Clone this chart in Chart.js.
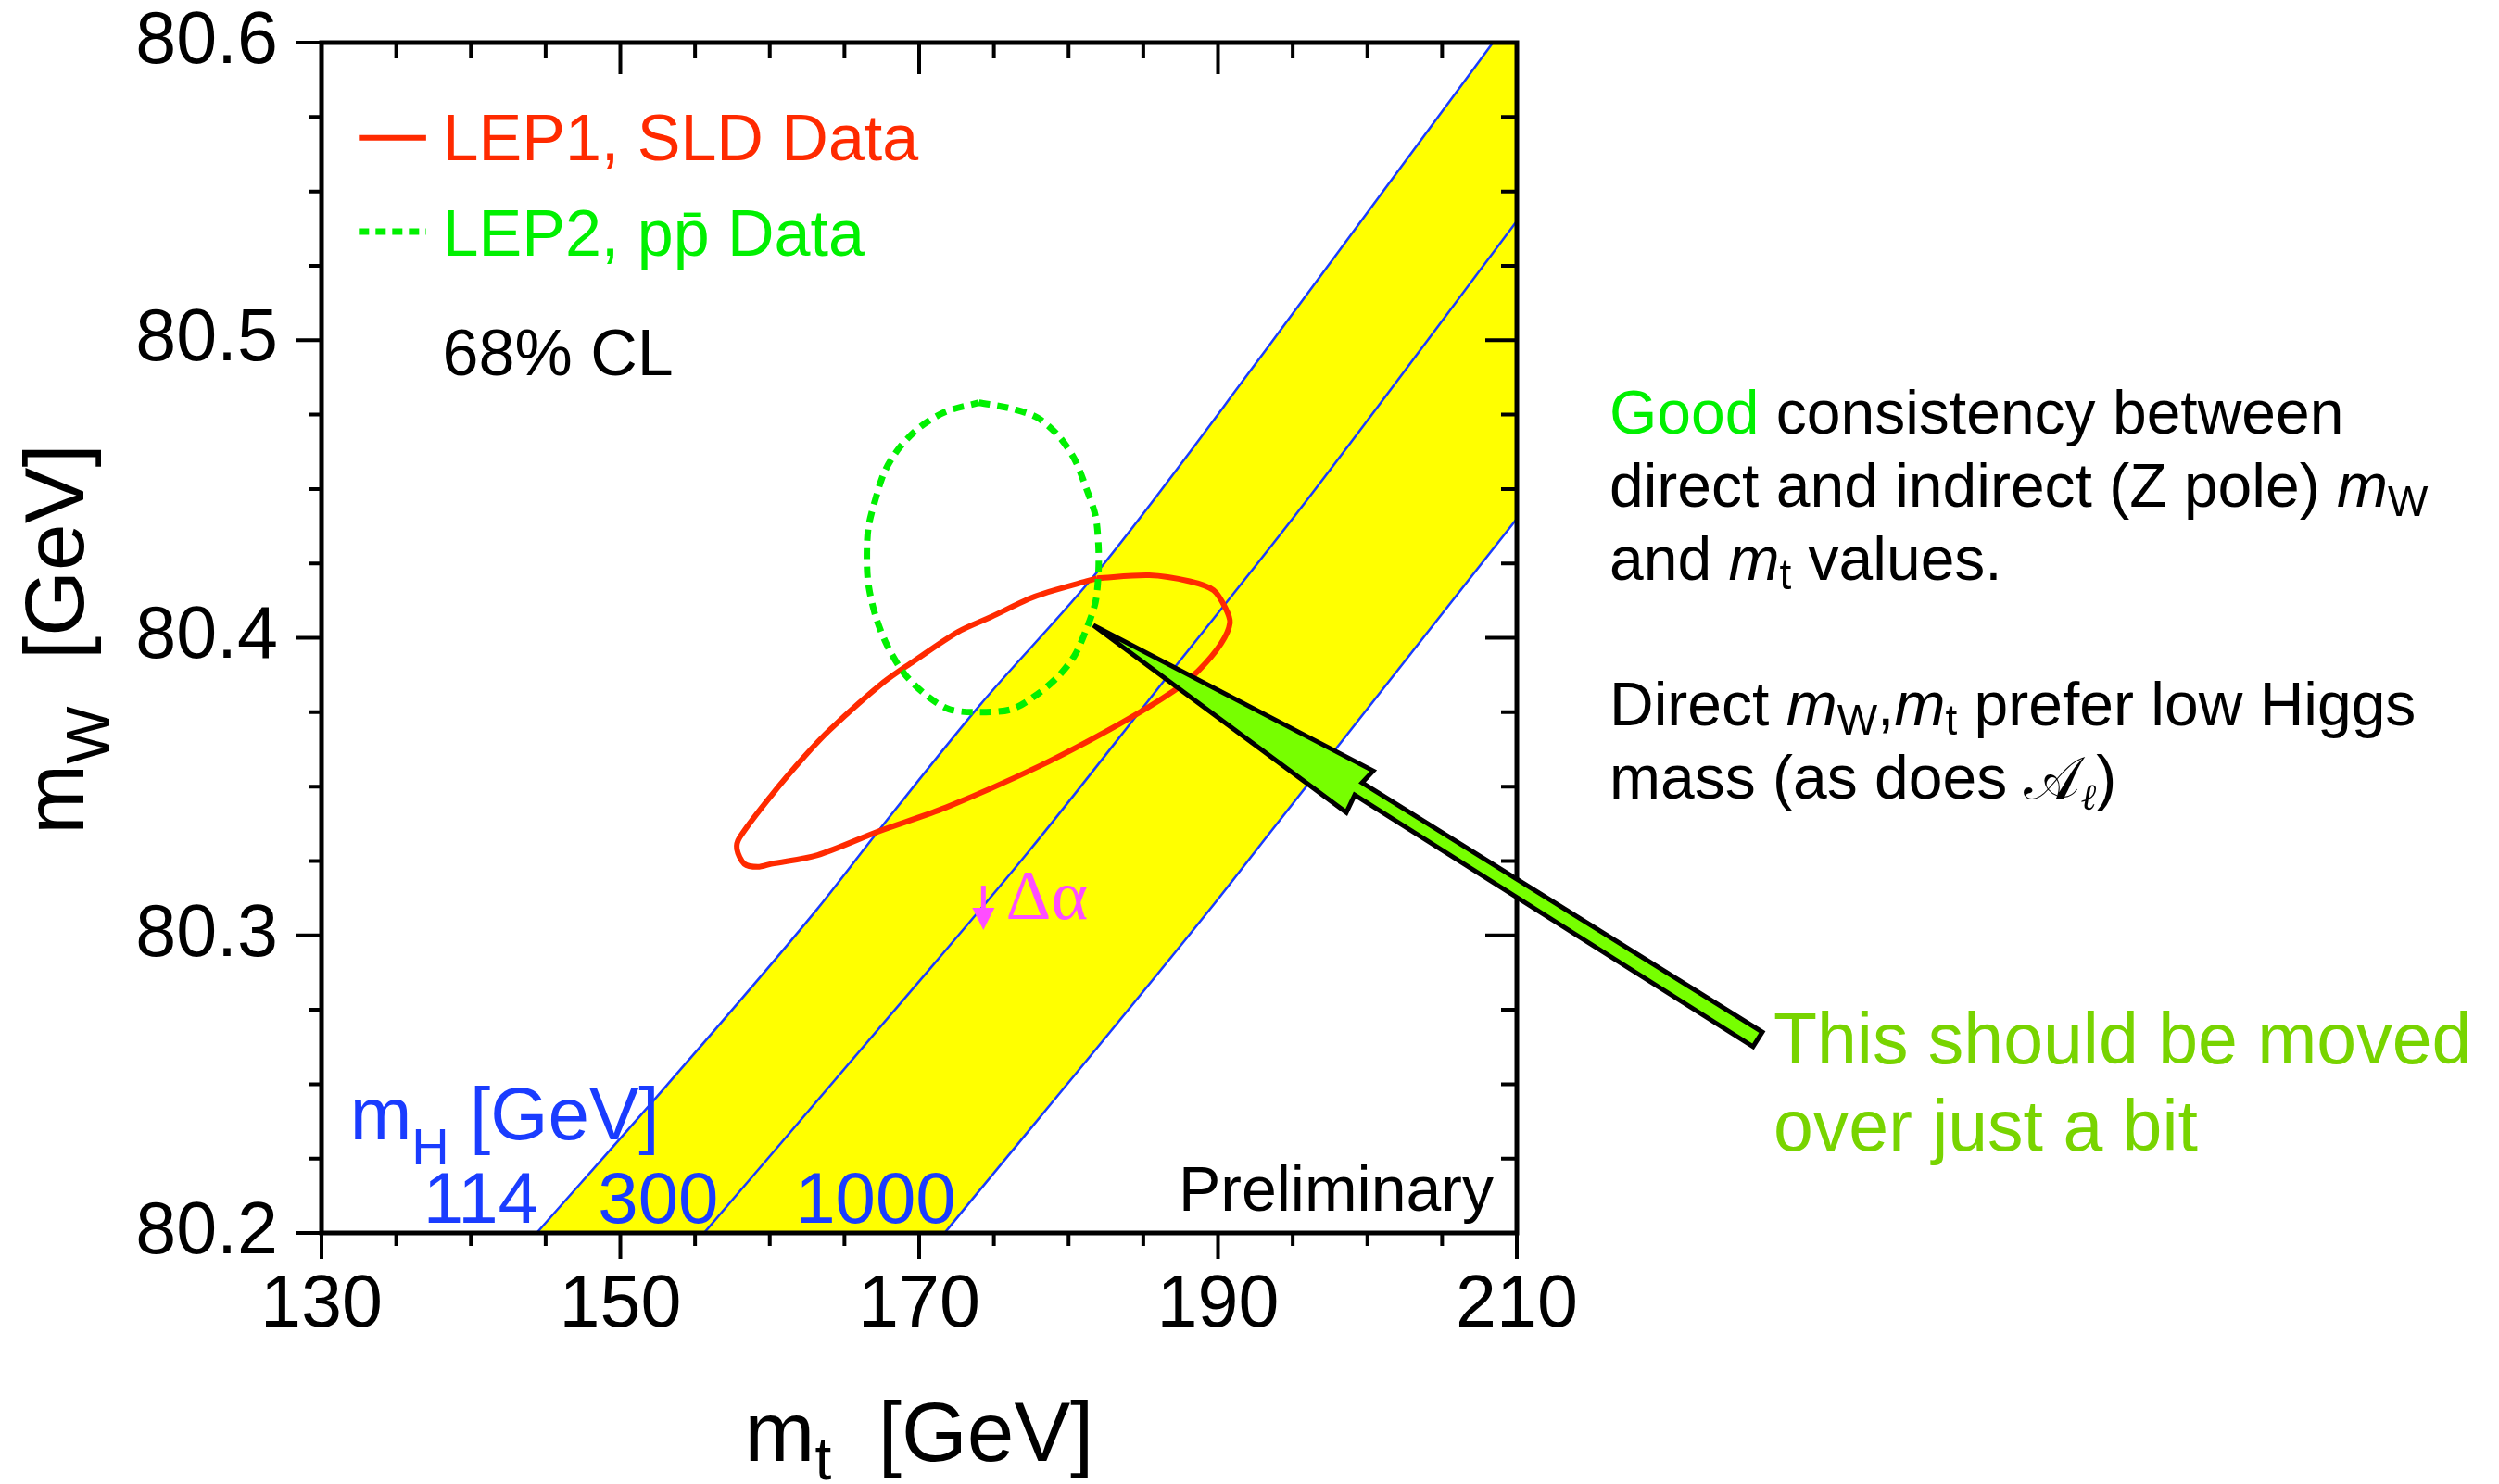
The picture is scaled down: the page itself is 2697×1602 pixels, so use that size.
<!DOCTYPE html>
<html>
<head>
<meta charset="utf-8">
<script src="https://cdn.jsdelivr.net/npm/chart.js@4.4.1/dist/chart.umd.min.js"></script>
<style>
  html, body { margin: 0; padding: 0; background: #fff; }
  #wrap { width: 2697px; height: 1602px; }
</style>
</head>
<body>
<div id="wrap"><canvas id="mwChart" width="2697" height="1602"></canvas></div>
<script>
// axis ranges and tick positions (GeV)
const xMin = 130, xMax = 210, yMin = 80.2, yMax = 80.6;
const xMajorTicks = [130, 150, 170, 190, 210];
const xMinorTicks = [135, 140, 145, 155, 160, 165, 175, 180, 185, 195, 200, 205];
const yMajorTicks = [80.2, 80.3, 80.4, 80.5, 80.6];
const yMinorTicks = [80.225, 80.25, 80.275, 80.325, 80.35, 80.375, 80.425, 80.45, 80.475, 80.525, 80.55, 80.575];

// SM prediction lines for mH = 114, 300, 1000 GeV
const mH114Mt = [144.4, 153.0, 163.2, 167.1, 174.0, 181.9, 193.1, 208.4, 210.0];
const mH114Mw = [80.200, 80.249, 80.309, 80.334, 80.377, 80.422, 80.496, 80.600, 80.611];
const mH300Mt = [155.6, 171.1, 177.3, 186.3, 195.3, 210.0];
const mH300Mw = [80.200, 80.291, 80.328, 80.385, 80.442, 80.540];
const mH1000Mt = [171.7, 189.5, 193.4, 210.0];
const mH1000Mw = [80.200, 80.309, 80.334, 80.440];
const higgsLabels = ['114', '300', '1000'];
const higgsLabelMt = [136.8, 148.5, 161.7];

// LEP1, SLD indirect 68% CL contour
const lep1Mt = [181.9, 185.4, 188.1, 189.7, 190.5, 190.8, 190.2, 188.7, 187.0, 183.4, 178.1, 171.8, 167.3, 163.2, 160.1, 159.2, 158.3, 157.8, 158.0, 160.1, 162.3, 164.0, 167.6, 169.6, 172.6, 174.8, 177.3, 178.4, 181.2, 181.9];
const lep1Mw = [80.420, 80.421, 80.419, 80.416, 80.410, 80.405, 80.398, 80.389, 80.382, 80.371, 80.357, 80.343, 80.335, 80.327, 80.324, 80.323, 80.324, 80.329, 80.333, 80.347, 80.360, 80.369, 80.385, 80.392, 80.402, 80.407, 80.413, 80.415, 80.419, 80.420];

// LEP2, ppbar direct 68% CL contour
const lep2Mt = [174.0, 176.2, 177.9, 179.3, 180.4, 181.2, 181.8, 182.0, 182.0, 181.8, 181.2, 180.4, 179.3, 177.9, 176.2, 174.0, 172.0, 170.4, 169.0, 167.9, 167.1, 166.6, 166.5, 166.6, 167.1, 167.7, 168.7, 170.1, 171.8, 174.0];
const lep2Mw = [80.479, 80.477, 80.474, 80.468, 80.460, 80.450, 80.441, 80.431, 80.422, 80.412, 80.403, 80.394, 80.387, 80.381, 80.376, 80.375, 80.376, 80.381, 80.388, 80.397, 80.407, 80.418, 80.427, 80.437, 80.447, 80.456, 80.464, 80.471, 80.476, 80.479];

// big annotation arrow outline (tip, barb, notch, tail, tail, notch, barb)
const arrowMt = [181.66, 200.39, 199.64, 226.43, 225.81, 199.15, 198.59];
const arrowMw = [80.4042, 80.3553, 80.3513, 80.2675, 80.2626, 80.3472, 80.3413];

// delta-alpha shift marker
const dAlphaMt = 174.3;
const dAlphaMw = [80.3167, 80.3018];

const RED = '#ff2a00';
const GREEN = '#00f000';
const BLUE = '#1a3cff';
const YELLOW = '#ffff00';
const MAGENTA = '#ff4dff';
const LIME = '#78d400';
const SANS = '"Liberation Sans", Arial, Helvetica, sans-serif';
const SERIF = '"Liberation Serif", "Times New Roman", serif';
const SCRIPT = '"DejaVu Serif", "DejaVu Sans", "Noto Sans", serif';

function toPoints(xs, ys) {
  return xs.map((v, i) => ({ x: v, y: ys[i] }));
}

function fontOf(r) {
  return `${r.it ? 'italic ' : ''}${r.s || 66}px ${r.f || SANS}`;
}

// draws a row of text pieces with their own size, colour and baseline shift
function drawRuns(ctx, x0, y0, runs, align = 'left') {
  ctx.textAlign = 'left';
  ctx.textBaseline = 'alphabetic';
  const widths = runs.map((r) => {
    ctx.font = fontOf(r);
    return ctx.measureText(r.t).width;
  });
  const total = widths.reduce((a, b) => a + b, 0);
  let cx = x0;
  if (align === 'right') cx = x0 - total;
  if (align === 'center') cx = x0 - total / 2;
  runs.forEach((r, i) => {
    ctx.font = fontOf(r);
    ctx.fillStyle = r.c || '#000';
    ctx.fillText(r.t, cx, y0 + (r.dy || 0));
    cx += widths[i];
  });
}

function drawFrame(ctx, area, x, y) {
  ctx.strokeStyle = '#000';
  ctx.lineCap = 'butt';
  ctx.lineWidth = 4;
  ctx.beginPath();
  const xt = xMajorTicks.map((v) => [v, 1]).concat(xMinorTicks.map((v) => [v, 0]));
  xt.forEach(([v, major]) => {
    const px = x.getPixelForValue(v);
    ctx.moveTo(px, area.bottom);
    ctx.lineTo(px, area.bottom + (major ? 28 : 14));
    ctx.moveTo(px, area.top);
    ctx.lineTo(px, area.top + (major ? 34 : 17));
  });
  const yt = yMajorTicks.map((v) => [v, 1]).concat(yMinorTicks.map((v) => [v, 0]));
  yt.forEach(([v, major]) => {
    const py = y.getPixelForValue(v);
    ctx.moveTo(area.left, py);
    ctx.lineTo(area.left - (major ? 28 : 14), py);
    ctx.moveTo(area.right, py);
    ctx.lineTo(area.right - (major ? 34 : 17), py);
  });
  ctx.stroke();
  ctx.lineWidth = 5;
  ctx.strokeRect(area.left, area.top, area.right - area.left, area.bottom - area.top);
}

function drawPlotLabels(ctx, chart, x, y) {
  const [lep2Set, lep1Set] = chart.data.datasets;
  const lx0 = x.getPixelForValue(132.5);
  const lx1 = x.getPixelForValue(137.0);
  const tx = x.getPixelForValue(138.1);

  // legend
  ctx.save();
  ctx.strokeStyle = lep1Set.borderColor;
  ctx.lineWidth = lep1Set.borderWidth;
  ctx.beginPath();
  ctx.moveTo(lx0, y.getPixelForValue(80.568));
  ctx.lineTo(lx1, y.getPixelForValue(80.568));
  ctx.stroke();
  ctx.strokeStyle = lep2Set.borderColor;
  ctx.lineWidth = lep2Set.borderWidth;
  ctx.setLineDash([11, 7]);
  ctx.beginPath();
  ctx.moveTo(lx0, y.getPixelForValue(80.5365));
  ctx.lineTo(lx1, y.getPixelForValue(80.5365));
  ctx.stroke();
  ctx.restore();

  drawRuns(ctx, tx, y.getPixelForValue(80.5605), [{ t: 'LEP1, SLD Data', s: 70, c: RED }]);
  drawRuns(ctx, tx, y.getPixelForValue(80.5284), [{ t: 'LEP2, pp\u0304 Data', s: 70, c: GREEN }]);
  drawRuns(ctx, tx, y.getPixelForValue(80.4882), [{ t: '68% CL', s: 70 }]);

  // Higgs mass labels
  drawRuns(ctx, x.getPixelForValue(131.9), y.getPixelForValue(80.2314), [
    { t: 'm', s: 80, c: BLUE },
    { t: 'H', s: 56, c: BLUE, dy: 27 },
    { t: ' [GeV]', s: 80, c: BLUE },
  ]);
  higgsLabels.forEach((lab, i) => {
    drawRuns(ctx, x.getPixelForValue(higgsLabelMt[i]), y.getPixelForValue(80.2034), [{ t: lab, s: 78, c: BLUE }]);
  });

  drawRuns(ctx, x.getPixelForValue(208.45), y.getPixelForValue(80.2075), [{ t: 'Preliminary', s: 68 }], 'right');

  // delta-alpha marker
  const ax = x.getPixelForValue(dAlphaMt);
  const ay0 = y.getPixelForValue(dAlphaMw[0]);
  const ay1 = y.getPixelForValue(dAlphaMw[1]);
  ctx.save();
  ctx.strokeStyle = MAGENTA;
  ctx.fillStyle = MAGENTA;
  ctx.lineWidth = 5;
  ctx.beginPath();
  ctx.moveTo(ax, ay0);
  ctx.lineTo(ax, ay1 - 16);
  ctx.stroke();
  ctx.beginPath();
  ctx.moveTo(ax - 12, ay1 - 24);
  ctx.lineTo(ax + 12, ay1 - 24);
  ctx.lineTo(ax, ay1);
  ctx.closePath();
  ctx.fill();
  ctx.restore();
  drawRuns(ctx, x.getPixelForValue(175.8), y.getPixelForValue(80.3055), [{ t: '\u0394\u03b1', s: 76, c: MAGENTA, f: SERIF }]);
}

function drawAxisTitles(ctx, area) {
  drawRuns(ctx, (area.left + area.right) / 2, 1577, [
    { t: 'm', s: 91 },
    { t: 't', s: 64, dy: 20 },
    { t: '  [GeV]', s: 91 },
  ], 'center');
  ctx.save();
  ctx.translate(90, 690);
  ctx.rotate(-Math.PI / 2);
  drawRuns(ctx, 0, 0, [
    { t: 'm', s: 91 },
    { t: 'W', s: 66, dy: 28 },
    { t: '  [GeV]', s: 91 },
  ], 'center');
  ctx.restore();
}

function drawNotes(ctx, area) {
  const nx = area.right + 100;
  const sub = { s: 46, dy: 10 };
  drawRuns(ctx, nx, 468, [{ t: 'Good', c: GREEN }, { t: ' consistency between' }]);
  drawRuns(ctx, nx, 547, [{ t: 'direct and indirect (Z pole) ' }, { t: 'm', it: true }, { t: 'W', ...sub }]);
  drawRuns(ctx, nx, 626, [{ t: 'and ' }, { t: 'm', it: true }, { t: 't', ...sub }, { t: ' values.' }]);
  drawRuns(ctx, nx, 783, [
    { t: 'Direct ' }, { t: 'm', it: true }, { t: 'W', ...sub }, { t: ',' },
    { t: 'm', it: true }, { t: 't', ...sub }, { t: ' prefer low Higgs' },
  ]);
  drawRuns(ctx, nx, 862, [
    { t: 'mass (as does ' },
    { t: '\u{1D49C}', f: SCRIPT, s: 64 },
    { t: '\u2113', s: 40, dy: 12, it: true, f: SERIF },
    { t: ')' },
  ]);
  drawRuns(ctx, area.right + 277, 1148, [{ t: 'This should be moved', s: 77, c: LIME }]);
  drawRuns(ctx, area.right + 277, 1242, [{ t: 'over just a bit', s: 77, c: LIME }]);
}

function drawArrow(ctx, x, y) {
  ctx.save();
  ctx.beginPath();
  arrowMt.forEach((mt, i) => {
    const px = x.getPixelForValue(mt);
    const py = y.getPixelForValue(arrowMw[i]);
    if (i === 0) ctx.moveTo(px, py);
    else ctx.lineTo(px, py);
  });
  ctx.closePath();
  ctx.fillStyle = '#77ff00';
  ctx.fill();
  ctx.lineJoin = 'miter';
  ctx.lineWidth = 5;
  ctx.strokeStyle = '#000';
  ctx.stroke();
  ctx.restore();
}

const overlay = {
  id: 'overlay',
  afterDatasetsDraw(chart) {
    const { ctx, chartArea: area, scales: { x, y } } = chart;
    ctx.save();
    drawFrame(ctx, area, x, y);
    drawPlotLabels(ctx, chart, x, y);
    drawAxisTitles(ctx, area);
    drawNotes(ctx, area);
    drawArrow(ctx, x, y);
    ctx.restore();
  },
};

const tickFont = { family: SANS, size: 79, lineHeight: 1 };

const chart = new Chart(document.getElementById('mwChart'), {
  type: 'line',
  data: {
    datasets: [
      {
        label: 'LEP2, ppbar Data',
        data: toPoints(lep2Mt, lep2Mw),
        borderColor: GREEN,
        borderWidth: 7,
        borderDash: [12, 8],
        fill: false,
        tension: 0.3,
      },
      {
        label: 'LEP1, SLD Data',
        data: toPoints(lep1Mt, lep1Mw),
        borderColor: RED,
        borderWidth: 6,
        fill: false,
        tension: 0.3,
      },
      {
        label: 'mH 1000',
        data: toPoints(mH1000Mt, mH1000Mw),
        borderColor: BLUE,
        borderWidth: 2.5,
        backgroundColor: '#ffffff',
        fill: 'start',
        cubicInterpolationMode: 'monotone',
      },
      {
        label: 'mH 300',
        data: toPoints(mH300Mt, mH300Mw),
        borderColor: BLUE,
        borderWidth: 2.5,
        fill: false,
        cubicInterpolationMode: 'monotone',
      },
      {
        label: 'mH 114',
        data: toPoints(mH114Mt, mH114Mw),
        borderColor: BLUE,
        borderWidth: 2.5,
        backgroundColor: YELLOW,
        fill: 'start',
        cubicInterpolationMode: 'monotone',
      },
    ],
  },
  options: {
    responsive: false,
    animation: false,
    devicePixelRatio: 1,
    events: [],
    layout: { padding: { left: 0, top: 46, right: 1060, bottom: 0 } },
    elements: { point: { radius: 0, hoverRadius: 0 } },
    plugins: { legend: { display: false }, tooltip: { enabled: false } },
    scales: {
      x: {
        type: 'linear',
        min: xMin,
        max: xMax,
        afterFit(scale) {
          scale.height = 271;
          scale.paddingLeft = 0;
          scale.paddingRight = 0;
        },
        afterBuildTicks(scale) { scale.ticks = xMajorTicks.map((v) => ({ value: v })); },
        grid: { display: false, drawTicks: false },
        border: { display: false },
        ticks: {
          font: tickFont,
          color: '#000',
          padding: 40,
          maxRotation: 0,
          autoSkip: false,
          callback: (v) => String(v),
        },
      },
      y: {
        type: 'linear',
        min: yMin,
        max: yMax,
        afterFit(scale) {
          scale.width = 347;
          scale.paddingTop = 0;
          scale.paddingBottom = 0;
        },
        afterBuildTicks(scale) { scale.ticks = yMajorTicks.map((v) => ({ value: v })); },
        grid: { display: false, drawTicks: false },
        border: { display: false },
        ticks: {
          font: tickFont,
          color: '#000',
          padding: 47,
          autoSkip: false,
          callback: (v) => v.toFixed(1),
        },
      },
    },
  },
  plugins: [overlay],
});
</script>
</body>
</html>
